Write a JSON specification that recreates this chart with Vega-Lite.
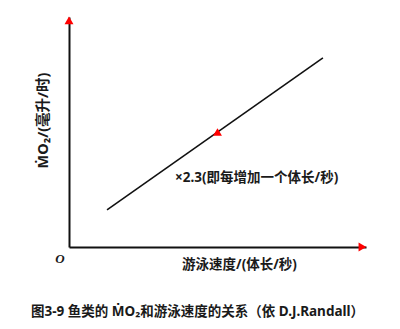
{
  "$schema": "https://vega.github.io/schema/vega-lite/v6.json",
  "autosize": "none",
  "width": 297,
  "height": 230,
  "padding": {"left": 69, "top": 17, "right": 34, "bottom": 82},
  "background": "white",
  "config": {
    "view": {"stroke": null},
    "font": "Noto Sans, Noto Sans CJK SC",
    "axis": {"labelFont": "Noto Sans, Noto Sans CJK SC", "titleFont": "Noto Sans, Noto Sans CJK SC"}
  },
  "title": {
    "text": "图3-9   鱼类的 ṀO₂和游泳速度的关系（依 D.J.Randall）",
    "orient": "bottom",
    "anchor": "middle",
    "dx": -20,
    "offset": 34,
    "fontSize": 13.5,
    "fontWeight": "bold",
    "color": "#1a1a1a",
    "font": "Noto Sans, Noto Sans CJK SC"
  },
  "encoding": {
    "x": {
      "field": "speed",
      "type": "quantitative",
      "scale": {"domain": [0, 10], "nice": false},
      "axis": {
        "title": "游泳速度/(体长/秒)",
        "domainColor": "#111",
        "domainWidth": 2,
        "ticks": false,
        "labels": false,
        "grid": false,
        "titleFontSize": 13.5,
        "titleFontWeight": "bold",
        "titleColor": "#1a1a1a",
        "titleX": 170,
        "titleY": 17,
        "titleAlign": "center",
        "titleBaseline": "middle"
      }
    },
    "y": {
      "field": "mo2",
      "type": "quantitative",
      "scale": {"domain": [0, 10], "nice": false},
      "axis": {
        "title": "ṀO₂/(毫升/时)",
        "domainColor": "#111",
        "domainWidth": 2,
        "ticks": false,
        "labels": false,
        "grid": false,
        "titleFontSize": 14.5,
        "titleFontWeight": "bold",
        "titleColor": "#1a1a1a",
        "titleX": -26,
        "titleY": 103,
        "titleAlign": "center",
        "titleBaseline": "middle",
        "titleAngle": -90
      }
    }
  },
  "layer": [
    {
      "data": {"values": [{"speed": 1.28, "mo2": 1.61}, {"speed": 8.55, "mo2": 8.22}]},
      "mark": {"type": "line", "color": "#111", "strokeWidth": 1.6}
    },
    {
      "data": {"values": [
        {"arrow": "up", "speed": 0, "mo2": 9.85},
        {"arrow": "right", "speed": 9.88, "mo2": 0},
        {"arrow": "up", "speed": 5, "mo2": 5}
      ]},
      "mark": {"type": "point", "filled": true, "color": "red", "opacity": 1, "size": 80},
      "encoding": {
        "shape": {"field": "arrow", "type": "nominal", "scale": {"domain": ["up", "right"], "range": ["triangle-up", "triangle-right"]}, "legend": null}
      }
    },
    {
      "data": {"values": [{"speed": 3.57, "mo2": 3.0, "label": "×2.3(即每增加一个体长/秒)"}]},
      "mark": {"type": "text", "align": "left", "baseline": "middle", "fontSize": 13.5, "fontWeight": "bold", "color": "#1a1a1a"},
      "encoding": {"text": {"field": "label"}}
    },
    {
      "data": {"values": [{"speed": 0, "mo2": 0, "label": "O"}]},
      "mark": {"type": "text", "align": "center", "baseline": "middle", "dx": -9, "dy": 12, "fontSize": 13, "fontStyle": "italic", "fontWeight": "bold", "color": "#1a1a1a", "font": "Liberation Serif"},
      "encoding": {"text": {"field": "label"}}
    }
  ]
}
